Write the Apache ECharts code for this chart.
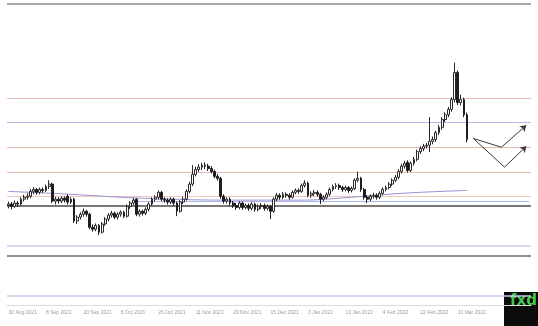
<!DOCTYPE html>
<html>
<head>
<meta charset="utf-8">
<script src="https://cdn.jsdelivr.net/npm/echarts@6/dist/echarts.min.js"></script>
<style>
html,body{margin:0;padding:0;background:#fff;}
#chart{width:538px;height:326px;}
</style>
</head>
<body>
<div id="chart"></div>
<script>
// ---- data ----
const tickLabels = ['30 Aug 2021','8 Sep 2021','20 Sep 2021','6 Oct 2021','26 Oct 2021','11 Nov 2021','29 Nov 2021','15 Dec 2021','3 Jan 2022','13 Jan 2022','4 Feb 2022','22 Feb 2022','10 Mar 2022'];
const opens = [1780,1783,1778,1785,1783,1793,1797,1799,1809,1813,1807,1813,1811,1819,1824,1789,1793,1789,1795,1799,
1787,1793,1748,1756,1762,1768,1762,1735,1731,1739,1725,1742,1752,1760,1764,1756,1762,1766,1758,1778,
1785,1793,1762,1768,1764,1772,1783,1793,1797,1807,1793,1791,1787,1793,1785,1768,1787,1793,1809,1824,
1844,1854,1859,1863,1861,1856,1850,1840,1836,1799,1789,1793,1785,1780,1776,1785,1776,1780,1774,1783,
1772,1778,1780,1774,1778,1768,1793,1801,1797,1803,1801,1797,1807,1811,1809,1821,1826,1801,1805,1807,
1803,1793,1797,1803,1813,1819,1821,1817,1813,1817,1811,1815,1832,1836,1813,1797,1793,1799,1801,1797,
1805,1813,1817,1824,1832,1838,1850,1861,1869,1852,1867,1875,1891,1897,1902,1904,1912,1916,1930,1941,
1957,1967,1978,1998,2054,1992,1998,1967];
const closes = [1783,1778,1785,1783,1793,1797,1799,1809,1813,1807,1813,1811,1819,1824,1789,1793,1789,1795,1791,1787,
1793,1748,1756,1762,1768,1762,1735,1731,1739,1725,1742,1752,1760,1764,1756,1762,1766,1758,1778,1785,
1791,1762,1768,1764,1772,1783,1793,1797,1807,1793,1791,1787,1793,1785,1768,1787,1793,1809,1824,1844,
1854,1859,1863,1861,1856,1850,1840,1836,1799,1789,1793,1785,1780,1776,1785,1776,1780,1774,1783,1772,
1778,1780,1774,1778,1768,1793,1801,1797,1803,1801,1797,1807,1811,1809,1821,1826,1801,1805,1807,1803,
1793,1797,1803,1813,1819,1821,1817,1813,1817,1811,1815,1832,1836,1813,1797,1793,1799,1801,1797,1805,
1813,1817,1824,1832,1838,1850,1861,1867,1852,1867,1875,1891,1897,1902,1904,1912,1916,1930,1941,1957,
1967,1978,1998,2054,1992,1998,1967,1916];
const lows = [1774,1772,1775,1777,1780,1788,1792,1795,1803,1802,1803,1806,1808,1814,1785,1782,1784,1785,1786,1782,
1783,1744,1742,1751,1757,1757,1731,1726,1727,1719,1722,1738,1747,1755,1752,1751,1757,1754,1755,1773,
1781,1758,1757,1759,1760,1768,1779,1788,1792,1789,1786,1782,1783,1780,1758,1765,1783,1790,1805,1820,
1840,1849,1853,1855,1851,1846,1836,1831,1794,1784,1784,1780,1775,1771,1772,1771,1772,1769,1770,1767,
1768,1773,1769,1770,1752,1765,1789,1792,1793,1796,1792,1794,1803,1804,1806,1817,1797,1796,1800,1798,
1783,1789,1793,1799,1809,1814,1812,1808,1809,1806,1807,1812,1828,1808,1792,1785,1789,1794,1792,1793,
1801,1809,1813,1820,1828,1834,1846,1856,1848,1849,1862,1871,1886,1892,1897,1890,1906,1911,1925,1936,
1952,1962,1973,1992,1987,1986,1962,1910];
const highs = [1788,1787,1790,1789,1797,1802,1805,1814,1818,1816,1817,1817,1823,1832,1827,1798,1797,1799,1799,1803,
1797,1796,1760,1766,1774,1771,1765,1741,1743,1742,1746,1756,1764,1769,1767,1766,1770,1769,1782,1789,
1796,1795,1772,1771,1776,1787,1797,1801,1811,1810,1797,1795,1797,1796,1788,1791,1798,1813,1829,1863,
1860,1865,1868,1869,1866,1861,1854,1845,1839,1803,1797,1797,1789,1785,1789,1788,1784,1784,1787,1786,
1782,1785,1784,1782,1781,1797,1806,1805,1808,1807,1805,1811,1815,1815,1825,1832,1829,1809,1812,1811,
1806,1801,1807,1817,1823,1826,1825,1820,1821,1820,1819,1836,1850,1839,1816,1801,1803,1806,1805,1809,
1817,1821,1828,1836,1843,1855,1866,1872,1873,1871,1880,1895,1902,1907,1909,1962,1922,1934,1946,1962,
1972,1983,2003,2074,2058,2008,2002,1971];
const levelPrices = [2000, 1952, 1900, 1848, 1798, 1780, 1698, 1676, 1595];
const maIndex = [0, 20, 36, 52, 71, 94, 104, 126, 147];
const maValues = [1809, 1803, 1797, 1793, 1791, 1791, 1794, 1805, 1811];
const segmentPrice = 1789;
const scenarioUp = [[149, 1918], [158, 1900], [166, 1945]];
const scenarioDown = [[149, 1918], [159, 1859], [166, 1902]];
const totalSlots = 168;

// ---- build ----
const categories = [];
for (let i = 0; i < totalSlots; i++) categories.push(String(i));
const candles = opens.map((o, i) => [o, closes[i], lows[i], highs[i]]);
const levelStyles = [
  {color:'#e6bcb0', width:1}, {color:'#b8b8e4', width:1}, {color:'#e6bcb0', width:1},
  {color:'#e6bcb0', width:1}, {color:'#eccabe', width:1}, {color:'#4a4a4a', width:1.5},
  {color:'#cacaea', width:1.5}, {color:'#666666', width:1.5}, {color:'#cacaea', width:1.5}
];
const levelData = levelPrices.map((p, i) => ({
  yAxis: p, lineStyle: {color: levelStyles[i].color, width: levelStyles[i].width, type: 'solid'}
}));
levelData.push([
  {coord: [40, segmentPrice], lineStyle: {color: '#aab4ec', width: 1, type: 'solid'}},
  {coord: [totalSlots - 1, segmentPrice]}
]);
function segs(path, arrowLast) {
  const out = [];
  for (let k = 0; k < path.length - 1; k++) {
    out.push({coords: [path[k], path[k + 1]], last: k === path.length - 2});
  }
  return out;
}
const allSegs = segs(scenarioUp).concat(segs(scenarioDown));

const chart = echarts.init(document.getElementById('chart'), null, {renderer: 'canvas'});
chart.setOption({
  animation: false,
  backgroundColor: '#ffffff',
  grid: {left: 7, right: 7, top: 4, bottom: 21},
  xAxis: {
    type: 'category',
    data: categories,
    boundaryGap: true,
    axisLine: {show: true, lineStyle: {color: '#dcdcdc', width: 1}},
    axisTick: {show: false},
    splitLine: {show: false},
    axisLabel: {
      interval: function (idx) { return idx % 12 === 0 && idx / 12 < tickLabels.length; },
      formatter: function (v, idx) { return tickLabels[Math.round(Number(v) / 12)] || ''; },
      align: 'left',
      color: '#9a9a9a',
      fontSize: 5,
      fontFamily: 'Arial, Liberation Sans, sans-serif',
      margin: 5
    }
  },
  yAxis: {
    type: 'value', min: 1575, max: 2195, show: false, splitLine: {show: false}
  },
  series: [
    {
      type: 'candlestick',
      data: candles,
      barWidth: '75%',
      itemStyle: {color: '#ffffff', color0: '#1e1e1e', borderColor: '#2a2a2a', borderColor0: '#1e1e1e', borderWidth: 1},
      markLine: {
        silent: true, symbol: ['none', 'none'], label: {show: false},
        animation: false, z: 1,
        data: levelData
      },
      z: 3
    },
    {
      type: 'line',
      data: maIndex.map((ix, i) => [ix, maValues[i]]),
      smooth: 0.4,
      symbol: 'none',
      lineStyle: {color: '#9c90d4', width: 1},
      z: 2
    },
    {
      type: 'lines',
      coordinateSystem: 'cartesian2d',
      symbol: ['none', 'none'],
      lineStyle: {color: '#3a3a3a', width: 1, opacity: 1, curveness: 0},
      data: allSegs.filter(s => !s.last).map(s => ({coords: s.coords})),
      z: 4
    },
    {
      type: 'lines',
      coordinateSystem: 'cartesian2d',
      symbol: ['none', 'arrow'],
      symbolSize: 6,
      lineStyle: {color: '#3a3a3a', width: 1, opacity: 1, curveness: 0},
      data: allSegs.filter(s => s.last).map(s => ({coords: s.coords})),
      z: 4
    }
  ],
  graphic: [
    {type: 'rect', shape: {x: 7, y: 3, width: 524, height: 2}, style: {fill: '#a8a8a8'}},
    {type: 'rect', shape: {x: 504, y: 292, width: 34, height: 34}, style: {fill: '#0b0b0b'}},
    {type: 'text', x: 510, y: 294, style: {text: 'fxd', fill: '#45c845', font: 'bold 15px "DejaVu Sans", sans-serif'}}
  ]
});
</script>
</body>
</html>
